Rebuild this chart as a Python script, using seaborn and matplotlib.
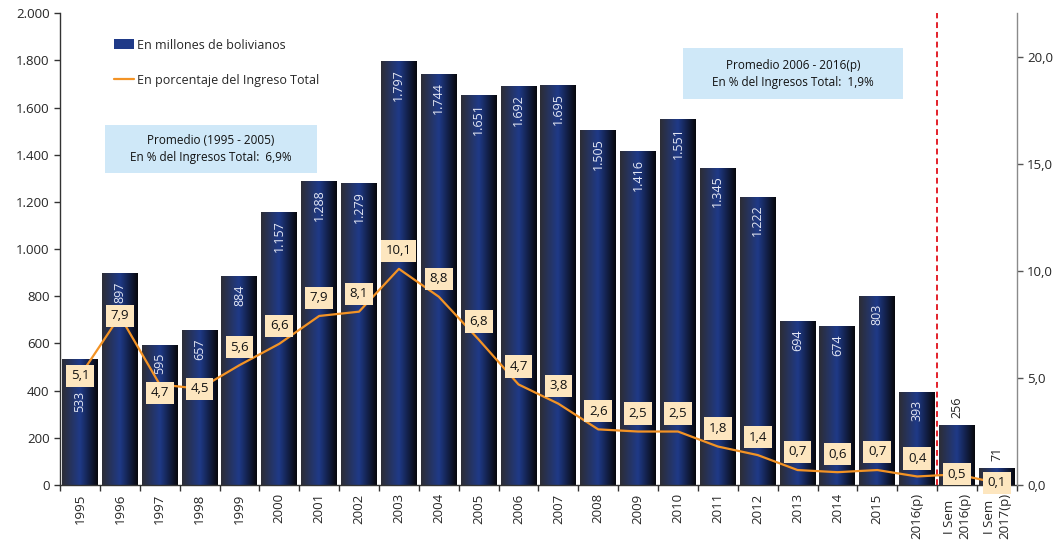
import numpy as np
import matplotlib
matplotlib.use("Agg")
import matplotlib.pyplot as plt
import seaborn as sns
from matplotlib.colors import LinearSegmentedColormap
from matplotlib.patches import Patch, Rectangle
from matplotlib.lines import Line2D

# ---------------------------------------------------------------
# datos
# ---------------------------------------------------------------
periodos = ["1995", "1996", "1997", "1998", "1999", "2000", "2001", "2002",
            "2003", "2004", "2005", "2006", "2007", "2008", "2009", "2010",
            "2011", "2012", "2013", "2014", "2015", "2016(p)",
            "I Sem\n2016(p)", "I Sem\n2017(p)"]
millones_bs = [533, 897, 595, 657, 884, 1157, 1288, 1279, 1797, 1744, 1651,
               1692, 1695, 1505, 1416, 1551, 1345, 1222, 694, 674, 803, 393,
               256, 71]
pct_ingreso = [5.1, 7.9, 4.7, 4.5, 5.6, 6.6, 7.9, 8.1, 10.1, 8.8, 6.8, 4.7,
               3.8, 2.6, 2.5, 2.5, 1.8, 1.4, 0.7, 0.6, 0.7, 0.4, 0.5, 0.1]
yticks_izq = [0, 200, 400, 600, 800, 1000, 1200, 1400, 1600, 1800, 2000]
yticks_der = [0, 5, 10, 15, 20]

nota_1 = "Promedio (1995 - 2005)\nEn % del Ingresos Total:  6,9%"
nota_2 = "Promedio 2006 - 2016(p)\nEn % del Ingresos Total:  1,9%"

sns.set_theme(style="white")
plt.rcParams["font.family"] = ["Open Sans", "DejaVu Sans"]

NARANJA = "#f39325"
AZUL = "#1f3a88"
DPI = 100

fig, ax = plt.subplots(figsize=(10.57, 5.47), dpi=DPI)
fig.subplots_adjust(left=0.0568, right=0.962, top=0.976, bottom=0.1133)

sns.barplot(x=periodos, y=millones_bs, color=AZUL, width=0.9, ax=ax,
            saturation=1)

# degradado horizontal en cada barra
cmap = LinearSegmentedColormap.from_list("barra", ["#2d2d35", AZUL, "#07070b"])
grad = np.linspace(0, 1, 256).reshape(1, -1)
for bar in ax.patches:
    x0, y0 = bar.get_x(), bar.get_y()
    w, h = bar.get_width(), bar.get_height()
    im = ax.imshow(grad, cmap=cmap, aspect="auto", interpolation="bicubic",
                   extent=[x0, x0 + w, y0, y0 + h], zorder=bar.get_zorder() + 0.1)
    im.set_clip_path(bar)

pos = np.arange(len(periodos))
ax.set_xlim(-0.5, len(periodos) - 0.5)
ax.set_ylim(0, 2000)

# eje derecho: porcentaje
ax2 = ax.twinx()
sns.lineplot(x=pos, y=pct_ingreso, color=NARANJA, lw=1.6, ax=ax2, zorder=3)
ax2.set_xlim(-0.5, len(periodos) - 0.5)
ax2.set_ylim(0, 22.05)

# etiquetas de porcentaje (cajas)
box_center = {}
for i, p in enumerate(pct_ingreso):
    if 4 <= i < 22:
        lift = 13
    elif i == 2:
        lift = -6
    else:
        lift = 0
    ax2.annotate(f"{p:.1f}".replace(".", ","), (i, p), xytext=(0, lift),
                 textcoords="offset points", ha="center", va="center",
                 fontsize=9.5, color="#111111", zorder=6,
                 bbox=dict(boxstyle="square,pad=0.35", fc="#fde6bf", ec="none"))
    box_center[i] = ax2.transData.transform((i, p))[1] + lift * DPI / 72

# etiquetas de valores en las barras
base_px = ax.transData.transform((0, 0))[1]
px_per_unit = (ax.transData.transform((0, 1000))[1] - base_px) / 1000
for i, v in enumerate(millones_bs):
    txt = f"{v:,}".replace(",", ".")
    if v >= 300:
        top_px = ax.transData.transform((i, v))[1] - 8
        label_bottom = top_px - 7 * len(txt)
        box_top = box_center[i] + 12
        if label_bottom < box_top and box_center[i] < top_px:
            top_px = box_center[i] - 15
        ax.text(i, (top_px - base_px) / px_per_unit, txt, rotation=90,
                ha="center", va="top", color="#e4e7f3", fontsize=9, zorder=4)
    else:
        ax.annotate(txt, (i, v), xytext=(0, 5), textcoords="offset points",
                    rotation=90, ha="center", va="bottom", color="#222222",
                    fontsize=9, zorder=4)

ax.axvline(21.5, color="#e3202a", ls=(0, (3, 2)), lw=1.4, zorder=5)

ax.set_yticks(yticks_izq, [f"{t:,}".replace(",", ".") for t in yticks_izq])
ax.set_xticks(pos, periodos, rotation=90)
ax.set_xticks(np.arange(-0.5, len(periodos), 1), minor=True)
for lab in ax.get_xticklabels():
    lab.set_multialignment("center")
ax.tick_params(axis="x", which="major", length=0, labelsize=9.5, pad=6)
ax.tick_params(axis="x", which="minor", bottom=True, length=4, width=1,
               direction="out", color="#333333")
ax.tick_params(axis="y", left=True, length=4, width=1, direction="out",
               color="#333333", labelsize=9.5)
ax.set_xlabel("")
ax.set_ylabel("")
for s in ["top", "right"]:
    ax.spines[s].set_visible(False)
for s in ["left", "bottom"]:
    ax.spines[s].set_color("#333333")
    ax.spines[s].set_linewidth(1)

ax2.set_yticks(yticks_der, [f"{t:.1f}".replace(".", ",") for t in yticks_der])
ax2.tick_params(axis="y", right=True, length=4, width=1, direction="out",
                color="#555555", labelsize=9.5)
ax2.set_ylabel("")
for s in ["top", "left", "bottom"]:
    ax2.spines[s].set_visible(False)
ax2.spines["right"].set_color("#8a8a8a")
ax2.spines["right"].set_linewidth(1)

# notas de promedio
for (x0, y0, w, h), txt in [((0.047, 0.661, 0.2215, 0.1017), nota_1),
                            ((0.651, 0.818, 0.23, 0.108), nota_2)]:
    ax2.add_patch(Rectangle((x0, y0), w, h, transform=ax2.transAxes,
                            fc="#cfe8f8", ec="none", zorder=2))
    ax2.text(x0 + w / 2, y0 + h / 2, txt, transform=ax2.transAxes,
             ha="center", va="center", fontsize=8.5, linespacing=1.4,
             color="#111111", zorder=3)

handles = [Patch(facecolor=AZUL, edgecolor="none"),
           Line2D([0], [0], color=NARANJA, lw=1.6)]
ax2.legend(handles, ["En millones de bolivianos",
                     "En porcentaje del Ingreso Total"],
           loc="upper left", bbox_to_anchor=(0.045, 0.97), frameon=False,
           fontsize=9, labelspacing=1.8, handlelength=1.6, handletextpad=0.2,
           handleheight=0.8)

fig.savefig("out.png", dpi=DPI)
